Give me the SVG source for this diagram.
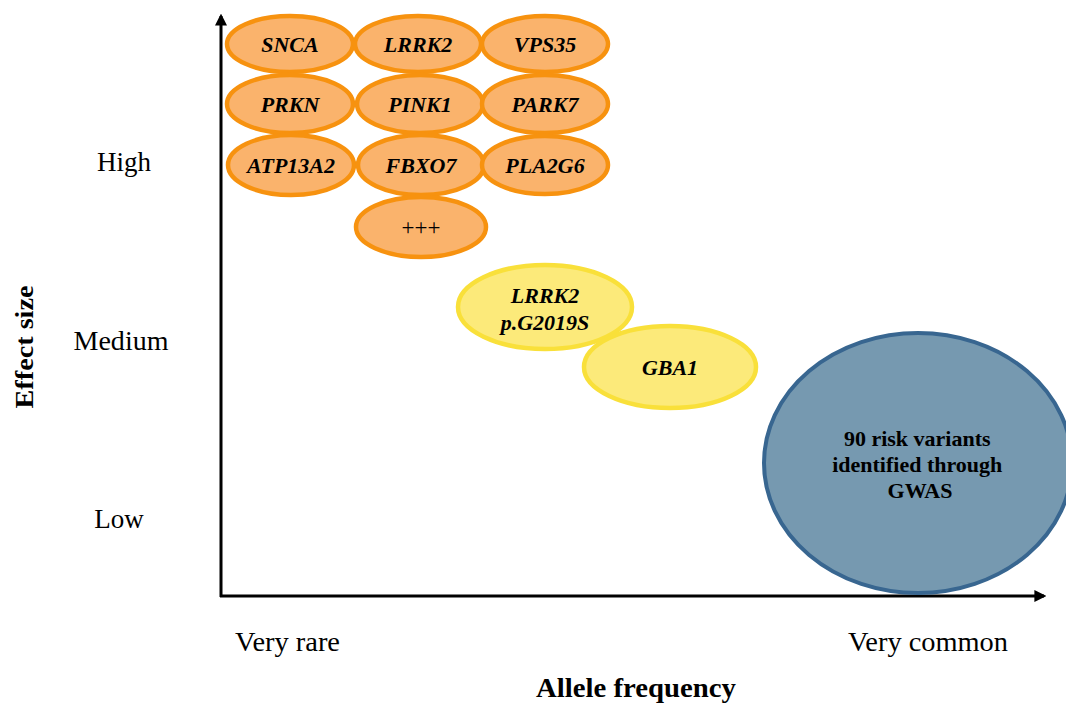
<svg xmlns="http://www.w3.org/2000/svg" width="1066" height="704" viewBox="0 0 1066 704">
  <style>
    .gene { fill: #FAB36C; stroke: #F7920F; stroke-width: 4.5; }
    .mid { fill: #FCEA7A; stroke: #F9E03A; stroke-width: 4.5; }
    .gwas { fill: #7699B0; stroke: #386690; stroke-width: 4; }
    .lbl { font-family: "Liberation Serif", "Times New Roman", serif; font-size: 22px; font-weight: bold; font-style: italic; fill: #000; text-anchor: middle; }
    .plain { font-family: "Liberation Serif", "Times New Roman", serif; fill: #000; }
    .axis { stroke: #000; stroke-width: 3; fill: none; }
  </style>
  <defs>
    <marker id="arrow" viewBox="0 0 10 10" refX="8" refY="5" markerWidth="4" markerHeight="4" orient="auto" markerUnits="strokeWidth">
      <path d="M0,0 L10,5 L0,10 z" fill="#000"/>
    </marker>
  </defs>
  <rect width="1066" height="704" fill="#fff"/>

  <!-- axes -->
  <g id="connectors">
    <line class="axis" x1="221" y1="597" x2="221" y2="16" marker-end="url(#arrow)"/>
    <line class="axis" x1="220" y1="596" x2="1044" y2="596" marker-end="url(#arrow)"/>
  </g>

  <!-- axis labels -->
  <g id="axis-labels">
    <text class="plain" x="124" y="171" font-size="27" text-anchor="middle">High</text>
    <text class="plain" x="121" y="350" font-size="27" text-anchor="middle" textLength="95" lengthAdjust="spacingAndGlyphs">Medium</text>
    <text class="plain" x="119" y="528" font-size="27" text-anchor="middle">Low</text>
    <text class="plain" transform="translate(33,347) rotate(-90)" font-size="26" font-weight="bold" text-anchor="middle" textLength="123" lengthAdjust="spacingAndGlyphs">Effect size</text>
    <text class="plain" x="235" y="651" font-size="28" textLength="105" lengthAdjust="spacingAndGlyphs">Very rare</text>
    <text class="plain" x="848" y="651" font-size="28" textLength="160" lengthAdjust="spacingAndGlyphs">Very common</text>
    <text class="plain" x="536" y="697" font-size="27" font-weight="bold" textLength="200" lengthAdjust="spacingAndGlyphs">Allele frequency</text>
  </g>

  <!-- high effect, very rare genes -->
  <g id="node-snca"><ellipse class="gene" cx="290" cy="44" rx="63" ry="28"/><text class="lbl" x="290" y="52">SNCA</text></g>
  <g id="node-lrrk2"><ellipse class="gene" cx="418" cy="44" rx="63" ry="28"/><text class="lbl" x="418" y="52">LRRK2</text></g>
  <g id="node-vps35"><ellipse class="gene" cx="545" cy="44" rx="63" ry="28"/><text class="lbl" x="545" y="52">VPS35</text></g>
  <g id="node-prkn"><ellipse class="gene" cx="290" cy="104" rx="63" ry="29"/><text class="lbl" x="290" y="112">PRKN</text></g>
  <g id="node-pink1"><ellipse class="gene" cx="420" cy="104" rx="63" ry="29"/><text class="lbl" x="420" y="112">PINK1</text></g>
  <g id="node-park7"><ellipse class="gene" cx="545" cy="104" rx="63" ry="29"/><text class="lbl" x="545" y="112">PARK7</text></g>
  <g id="node-atp13a2"><ellipse class="gene" cx="291" cy="165" rx="63" ry="30"/><text class="lbl" x="291" y="173">ATP13A2</text></g>
  <g id="node-fbxo7"><ellipse class="gene" cx="421" cy="165" rx="63" ry="30"/><text class="lbl" x="421" y="173">FBXO7</text></g>
  <g id="node-pla2g6"><ellipse class="gene" cx="545" cy="165" rx="63" ry="29"/><text class="lbl" x="545" y="173">PLA2G6</text></g>
  <g id="node-more"><ellipse class="gene" cx="421" cy="227" rx="65" ry="30"/><text class="plain" x="421" y="235" font-size="23" text-anchor="middle">+++</text></g>

  <!-- medium effect variants -->
  <g id="node-lrrk2-g2019s"><ellipse class="mid" cx="545" cy="307" rx="87" ry="42"/><text class="lbl" x="545" y="303">LRRK2</text><text class="lbl" x="545" y="330">p.G2019S</text></g>
  <g id="node-gba1"><ellipse class="mid" cx="670" cy="367" rx="86" ry="41"/><text class="lbl" x="670" y="375">GBA1</text></g>

  <!-- low effect, common variants -->
  <g id="node-gwas">
    <ellipse class="gwas" cx="918" cy="463" rx="154" ry="130"/>
    <text class="plain" font-size="22" font-weight="bold" text-anchor="middle">
      <tspan x="920" y="446">90 risk variants</tspan>
      <tspan x="920" y="472">identified through</tspan>
      <tspan x="920" y="498">GWAS</tspan>
    </text>
  </g>
</svg>
